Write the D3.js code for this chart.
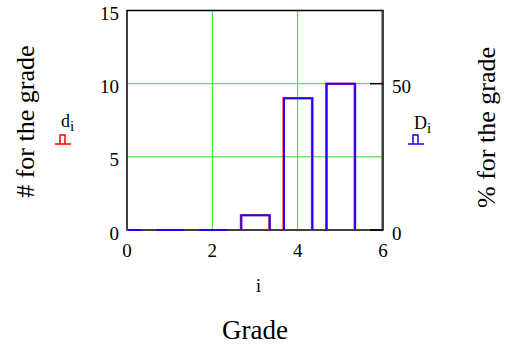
<!DOCTYPE html>
<html>
<head>
<meta charset="utf-8">
<script src="https://cdn.jsdelivr.net/npm/d3@7"></script>
<style>
body { margin: 0; background: #fff; }
</style>
</head>
<body>
<div id="a"></div>
<script>
// grades and counts
var grades = [0, 1, 2, 3, 4, 5];
var counts = [0, 0, 0, 1, 9, 10];          // d_i
var percents = [0, 0, 0, 5, 45, 50];       // D_i
var xTicks = [0, 2, 4, 6];
var yTicks = [0, 5, 10, 15];
var pTicks = [0, 50];

var W = 506, H = 345;
var m = {l: 127, r: 123, t: 10.5, b: 115};
var pw = W - m.l - m.r, ph = H - m.t - m.b;
var serif = "'Liberation Serif'";

var svg = d3.select("#a").append("svg")
	.attr("width", W)
	.attr("height", H);

var x = d3.scaleLinear().domain([0, 6]).range([m.l, m.l + pw]);
var y = d3.scaleLinear().domain([0, 15]).range([m.t + ph, m.t]);
var yp = d3.scaleLinear().domain([0, 75]).range([m.t + ph, m.t]);
var bw = 2 / 3;

// grid
svg.selectAll(".gx").data([2, 4, 6]).enter().append("line")
	.attr("x1", d => x(d) - (d == 6 ? 1.5 : 0)).attr("x2", d => x(d) - (d == 6 ? 1.5 : 0))
	.attr("y1", y(0)).attr("y2", y(15))
	.attr("stroke", "#22e622").attr("stroke-width", 1);
svg.selectAll(".gy").data([5, 10]).enter().append("line")
	.attr("x1", x(0)).attr("x2", x(6))
	.attr("y1", d => y(d)).attr("y2", d => y(d))
	.attr("stroke", "#22e622").attr("stroke-width", 1);

// frame
svg.append("rect")
	.attr("x", x(0)).attr("y", y(15))
	.attr("width", pw).attr("height", ph)
	.attr("fill", "none").attr("stroke", "#000").attr("stroke-width", 1.5);

// right axis ticks (inside)
svg.selectAll(".pt").data(pTicks).enter().append("line")
	.attr("x1", x(6) - 13).attr("x2", x(6))
	.attr("y1", d => yp(d)).attr("y2", d => yp(d))
	.attr("stroke", "#000").attr("stroke-width", 1.5);

// bar outlines (open histogram style, no bottom edge)
function barPath(v, sc) {
	return function(g, i) {
		var x0 = x(g - bw / 2), x1 = x(g + bw / 2), y0 = sc(0), y1 = sc(v[i]);
		if (v[i] == 0) return "M" + Math.max(x0, x(0)) + "," + y0 + "H" + x1;
		return "M" + x0 + "," + y0 + "V" + y1 + "H" + x1 + "V" + y0;
	};
}
svg.selectAll(".bd").data(grades).enter().append("path")
	.attr("d", barPath(counts, y))
	.attr("fill", "none").attr("stroke", "#ff2020").attr("stroke-width", 2);
svg.selectAll(".bD").data(grades).enter().append("path")
	.attr("d", barPath(percents, yp))
	.attr("transform", "translate(0.6,0)")
	.attr("fill", "none").attr("stroke", "#1e00ff").attr("stroke-width", 2);

// text helper: anchor done by measuring, a = 0 start, .5 middle, 1 end
function label(px, py, size, s, a, rot) {
	var t = svg.append("text")
		.style("font-family", serif)
		.attr("font-size", size)
		.text(s);
	var len = t.node().getComputedTextLength();
	if (rot) t.attr("transform", "translate(" + px + "," + py + ") rotate(-90)").attr("x", -len * a);
	else t.attr("x", px - len * a).attr("y", py);
	return t;
}

// tick labels
var fs = 19;
xTicks.forEach(d => label(x(d), 257, fs, d, 0.5));
yTicks.forEach(d => label(119, y(d) + 9.5, fs, d, 1));
pTicks.forEach(d => label(392, yp(d) + 9.5, fs, d, 0));

// axis titles
label(258.5, 291.5, 18, "i", 0.5);
label(255, 338.5, 27, "Grade", 0.5);
label(34, 121.7, 26, "# for the grade", 0.5, true);
label(495, 127.5, 26, "% for the grade", 0.5, true);

// legends
function legend(lx, ly, sx, name, col) {
	var t = svg.append("text").attr("x", lx).attr("y", ly)
		.style("font-family", serif).attr("font-size", 18);
	t.append("tspan").text(name);
	t.append("tspan").attr("dy", 4).attr("font-size", 15).text("i");
	var sy = 144;
	svg.append("path")
		.attr("d", "M" + sx + "," + sy + "H" + (sx + 16) +
			"M" + (sx + 5) + "," + sy + "V" + (sy - 9) + "H" + (sx + 10) + "V" + sy)
		.attr("fill", "none").attr("stroke", col).attr("stroke-width", 1.5);
}
legend(61, 127, 55, "d", "#ff0000");
legend(414, 129, 408, "D", "#1e00ff");
</script>
</body>
</html>
